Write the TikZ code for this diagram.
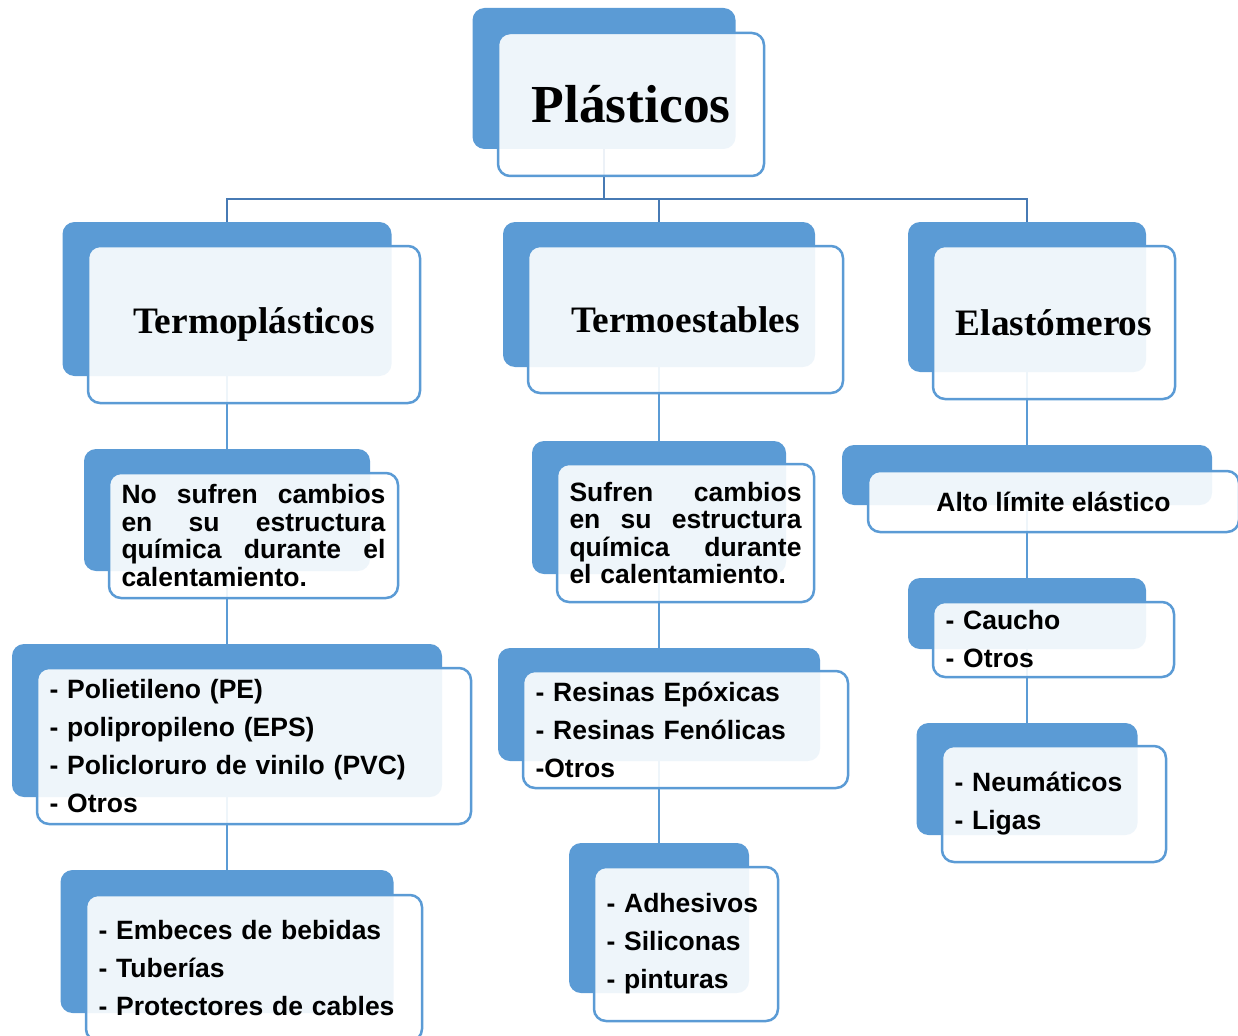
\documentclass[tikz,border=0pt]{standalone}
\usepackage{fontspec}
\setmainfont{Liberation Sans}
\newfontfamily\headfont{Liberation Serif}
\usetikzlibrary{backgrounds}
\definecolor{boxblue}{RGB}{91,155,213}
\definecolor{linkblue}{RGB}{71,122,180}
\newcommand{\jline}[1]{\leavevmode\hbox to \hsize{#1}}

\begin{document}
\begin{tikzpicture}[x=1pt,y=1pt,yscale=-1,
  backbox/.style={rectangle, rounded corners=12, fill=boxblue, inner sep=0},
  frontbox/.style={rectangle, rounded corners=12, draw=boxblue, line width=2.5,
    fill=white, fill opacity=0.9, text opacity=1, inner xsep=12.5, inner ysep=0},
  headtitle/.style={frontbox, font=\headfont\bfseries\fontsize{37.3}{40}\selectfont},
  listbox/.style={frontbox, align=left, text width=#1, font=\bfseries\fontsize{26.5}{38}\selectfont},
  parabox/.style={frontbox, align=left, text width=#1, font=\bfseries\fontsize{26.5}{27.5}\selectfont},
  toplink/.style={draw=linkblue, line width=2.5},
  sublink/.style={draw=boxblue, line width=2.5}]

\useasboundingbox (0,0) rectangle (1238,1035);

% back boxes
\node[backbox, minimum width=263, minimum height=141] (plasb) at (604,78.5) {};
\node[backbox, minimum width=329, minimum height=154] (tplb) at (227,299) {};
\node[backbox, minimum width=312, minimum height=145] (tesb) at (659,294.5) {};
\node[backbox, minimum width=238, minimum height=150] (elab) at (1027,297) {};
\node[backbox, minimum width=286, minimum height=122] (nosufb) at (227,510) {};
\node[backbox, minimum width=254, minimum height=133] (sufb) at (659,507.5) {};
\node[backbox, minimum width=370, minimum height=60] (altob) at (1027,475) {};
\node[backbox, minimum width=430, minimum height=153] (polib) at (227,720.5) {};
\node[backbox, minimum width=322, minimum height=113] (resinb) at (659,704.5) {};
\node[backbox, minimum width=238, minimum height=71] (cauchob) at (1027,613.5) {};
\node[backbox, minimum width=333, minimum height=143] (embecb) at (227,941.5) {};
\node[backbox, minimum width=180, minimum height=150] (adhesb) at (659,918) {};
\node[backbox, minimum width=221, minimum height=112] (neumb) at (1027,779) {};

% front boxes
\node[frontbox, minimum width=266, minimum height=143,
  font=\headfont\bfseries\fontsize{53.5}{60}\selectfont] (plasf) at (631,104.5) {Plásticos};
\node[headtitle, minimum width=332, minimum height=157] (tplf) at (254,324.5) {Termoplásticos};
\node[headtitle, minimum width=315, minimum height=147] (tesf) at (685.5,319.5) {Termoestables};
\node[headtitle, minimum width=242, minimum height=153] (elaf) at (1054,322.5) {Elastómeros};

\node[parabox=264, minimum width=289, minimum height=125] (nosuff) at (253.5,535.5)
  {\jline{No\hfill sufren\hfill cambios}\\ \jline{en\hfill su\hfill estructura}\\
   \jline{química\hfill durante\hfill el}\\ calentamiento.};
\node[parabox=232, minimum width=257, minimum height=138] (suff) at (685.5,533)
  {\jline{Sufren\hfill cambios}\\ \jline{en\hfill su\hfill estructura}\\
   \jline{química\hfill durante}\\ el calentamiento.};
\node[frontbox, minimum width=371, minimum height=61,
  font=\bfseries\fontsize{26.5}{30}\selectfont] (altof) at (1053.5,501.5) {Alto límite elástico};

\node[listbox=409, minimum width=434, minimum height=156] (polif) at (254,746)
  {- Polietileno (PE)\\ - polipropileno (EPS)\\ - Policloruro de vinilo (PVC)\\ - Otros};
\node[listbox=300, minimum width=325, minimum height=117] (resinf) at (685.5,729.5)
  {- Resinas Epóxicas\\ - Resinas Fenólicas\\ -Otros};
\node[listbox=216, minimum width=241, minimum height=75] (cauchof) at (1053.5,639.5)
  {- Caucho\\ - Otros};

\node[listbox=311, minimum width=336, minimum height=146] (embecf) at (254,968)
  {- Embeces de bebidas\\ - Tuberías\\ - Protectores de cables};
\node[listbox=159, minimum width=184, minimum height=154] (adhesf) at (686,944)
  {- Adhesivos\\ - Siliconas\\ - pinturas};
\node[listbox=199, minimum width=224, minimum height=116] (neumf) at (1054,804)
  {- Neumáticos\\ - Ligas};

% connectors
\begin{scope}[on background layer]
\coordinate (bus) at (604,199);
\draw[toplink] (plasb.center) -- (bus) -| (tplb.center);
\draw[toplink] (bus) -| (tesb.center);
\draw[toplink] (bus) -| (elab.center);
\draw[sublink] (tplb.center) -- (nosufb.center) -- (polib.center) -- (embecb.center);
\draw[sublink] (tesb.center) -- (sufb.center) -- (resinb.center) -- (adhesb.center);
\draw[sublink] (elab.center) -- (altob.center) -- (cauchob.center) -- (neumb.center);
\end{scope}

\end{tikzpicture}
\end{document}
